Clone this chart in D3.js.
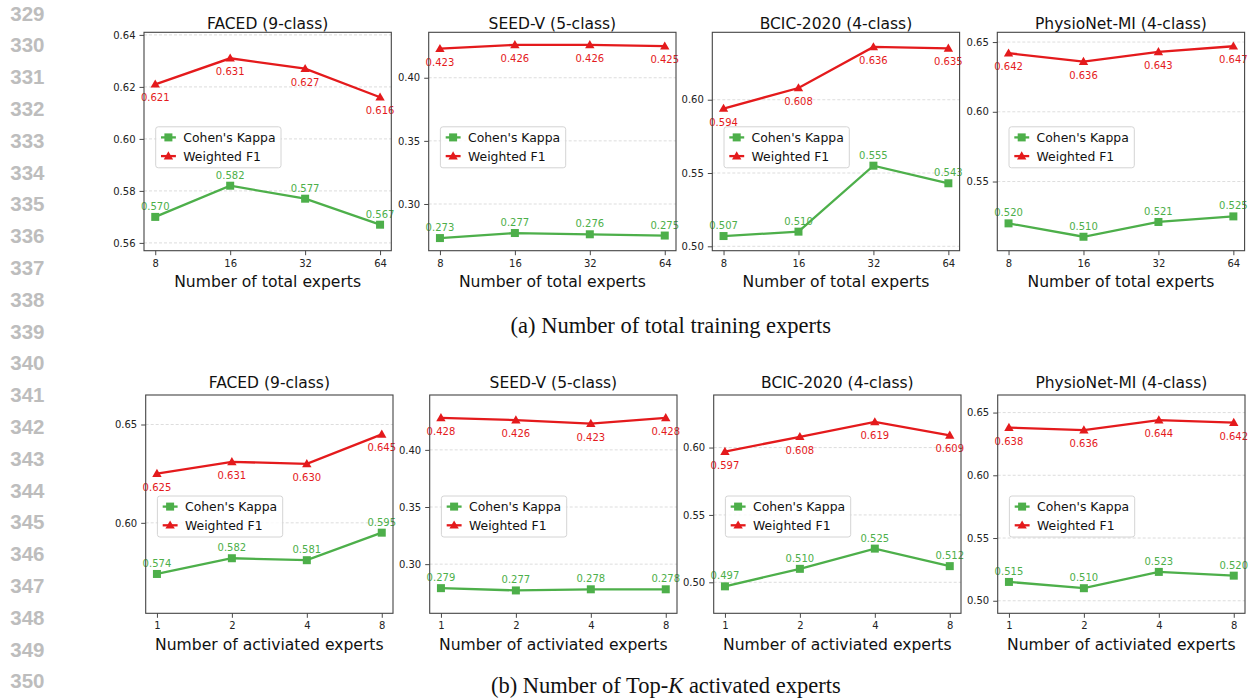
<!DOCTYPE html>
<html>
<head>
<meta charset="utf-8">
<script src="https://cdn.jsdelivr.net/npm/d3@7"></script>
<style>
  body { margin: 0; background: #fff; }
  svg { display: block; }
  text { font-family: "DejaVu Sans", sans-serif; }
</style>
</head>
<body>
<svg id="fig" width="1250" height="698"></svg>
<script>
// ---- data ----
const datasets = ["FACED (9-class)", "SEED-V (5-class)", "BCIC-2020 (4-class)", "PhysioNet-MI (4-class)"];
const totalExperts = ["8", "16", "32", "64"];
const activatedExperts = ["1", "2", "4", "8"];

// (a) number of total training experts
const totalF1 = [
  [0.621, 0.631, 0.627, 0.616],
  [0.423, 0.426, 0.426, 0.425],
  [0.594, 0.608, 0.636, 0.635],
  [0.642, 0.636, 0.643, 0.647]
];
const totalKappa = [
  [0.570, 0.582, 0.577, 0.567],
  [0.273, 0.277, 0.276, 0.275],
  [0.507, 0.510, 0.555, 0.543],
  [0.520, 0.5104, 0.521, 0.525]
];
const totalTicks = [
  [0.56, 0.58, 0.60, 0.62, 0.64],
  [0.30, 0.35, 0.40],
  [0.50, 0.55, 0.60],
  [0.55, 0.60, 0.65]
];

// (b) number of top-K activated experts
const activF1 = [
  [0.625, 0.631, 0.630, 0.645],
  [0.428, 0.426, 0.423, 0.428],
  [0.597, 0.608, 0.619, 0.609],
  [0.638, 0.636, 0.644, 0.642]
];
const activKappa = [
  [0.574, 0.582, 0.581, 0.595],
  [0.279, 0.277, 0.278, 0.278],
  [0.497, 0.510, 0.525, 0.512],
  [0.515, 0.510, 0.523, 0.520]
];
const activTicks = [
  [0.60, 0.65],
  [0.30, 0.35, 0.40],
  [0.50, 0.55, 0.60],
  [0.50, 0.55, 0.60, 0.65]
];

const lineNumbers = d3.range(329, 351);

const RED = "#e41a1c";
const GREEN = "#4daf4a";

const svg = d3.select("#fig");
svg.append("rect").attr("width", 1250).attr("height", 698).attr("fill", "#fff");

// line numbers in the margin
svg.append("g")
  .selectAll("text")
  .data(lineNumbers)
  .join("text")
    .attr("x", 44.5)
    .attr("y", (d, i) => 20.6 + i * 31.8)
    .attr("text-anchor", "end")
    .style("font-family", "'Liberation Sans', Arial, sans-serif")
    .style("font-weight", "bold")
    .style("font-size", "20.5px")
    .style("fill", "#bdbdbd")
    .text(d => d);

const rows = [
  {
    cats: totalExperts, f1: totalF1, kappa: totalKappa, ticks: totalTicks, pad: 0.01,
    xlabel: "Number of total experts",
    lefts: [144, 428.7, 712.3, 997.3], top: 32.3, bottom: 250.7,
    titleGap: 3.5, legendDy: 94.5
  },
  {
    cats: activatedExperts, f1: activF1, kappa: activKappa, ticks: activTicks, pad: 0.02,
    xlabel: "Number of activiated experts",
    lefts: [145.7, 429.7, 713.7, 997.7], top: 395, bottom: 613.3,
    titleGap: 7, legendDy: 101
  }
];

rows.forEach(row => {
  datasets.forEach((name, i) => {
    drawPanel(row, i, name);
  });
});

function drawPanel(row, i, name) {
  const width = 247.3;
  const left = row.lefts[i];
  const top = row.top;
  const innerH = row.bottom - row.top;
  const f1 = row.f1[i];
  const kappa = row.kappa[i];

  const g = svg.append("g").attr("transform", `translate(${left},${top})`);

  const x = d3.scalePoint()
    .domain(row.cats)
    .range([0, width])
    .padding(0.15);

  const all = f1.concat(kappa);
  const y = d3.scaleLinear()
    .domain([d3.min(all) - row.pad, d3.max(all) + row.pad])
    .range([innerH, 0]);

  // grid
  g.append("g")
    .selectAll("line")
    .data(row.ticks[i])
    .join("line")
      .attr("x1", 0)
      .attr("x2", width)
      .attr("y1", d => y(d))
      .attr("y2", d => y(d))
      .attr("stroke", "#d4d4d4")
      .attr("stroke-width", 0.8)
      .attr("stroke-dasharray", "3,2");

  // axes
  const yAxis = g.append("g")
    .call(d3.axisLeft(y).tickValues(row.ticks[i]).tickFormat(d3.format(".2f")).tickSize(4.5).tickPadding(4));
  const xAxis = g.append("g")
    .attr("transform", `translate(0,${innerH})`)
    .call(d3.axisBottom(x).tickSize(4.5).tickPadding(4.5));
  [yAxis, xAxis].forEach(ax => {
    ax.select(".domain").remove();
    ax.selectAll(".tick line").attr("stroke", "#333").attr("stroke-width", 0.9);
    ax.selectAll(".tick text")
      .style("font-family", "'DejaVu Sans', sans-serif")
      .style("font-size", "10px")
      .style("fill", "#222");
  });

  // series lines
  const line = d3.line()
    .x((d, j) => x(row.cats[j]))
    .y(d => y(d));

  g.append("path")
    .attr("d", line(kappa))
    .attr("fill", "none")
    .attr("stroke", GREEN)
    .attr("stroke-width", 2.3);

  g.append("g")
    .selectAll("rect")
    .data(kappa)
    .join("rect")
      .attr("x", (d, j) => x(row.cats[j]) - 4)
      .attr("y", d => y(d) - 4)
      .attr("width", 8)
      .attr("height", 8)
      .attr("fill", GREEN);

  g.append("path")
    .attr("d", line(f1))
    .attr("fill", "none")
    .attr("stroke", RED)
    .attr("stroke-width", 2.3);

  const tri = d3.symbol().type(d3.symbolTriangle).size(38);
  g.append("g")
    .selectAll("path")
    .data(f1)
    .join("path")
      .attr("transform", (d, j) => `translate(${x(row.cats[j])},${y(d) + 0.6})`)
      .attr("d", tri)
      .attr("fill", RED);

  // value labels
  g.append("g")
    .selectAll("text")
    .data(kappa)
    .join("text")
      .attr("x", (d, j) => x(row.cats[j]))
      .attr("y", d => y(d) - 7)
      .attr("text-anchor", "middle")
      .style("font-size", "10px")
      .style("fill", GREEN)
      .text(d => d3.format(".3f")(d));

  g.append("g")
    .selectAll("text")
    .data(f1)
    .join("text")
      .attr("x", (d, j) => x(row.cats[j]))
      .attr("y", d => y(d) + 17)
      .attr("text-anchor", "middle")
      .style("font-size", "10px")
      .style("fill", RED)
      .text(d => d3.format(".3f")(d));

  // frame
  g.append("rect")
    .attr("width", width)
    .attr("height", innerH)
    .attr("fill", "none")
    .attr("stroke", "#444")
    .attr("stroke-width", 1.1);

  // title & x label
  g.append("text")
    .attr("x", width / 2)
    .attr("y", -row.titleGap)
    .attr("text-anchor", "middle")
    .style("font-size", "15.5px")
    .style("fill", "#111")
    .text(name);

  g.append("text")
    .attr("x", width / 2)
    .attr("y", innerH + 36.5)
    .attr("text-anchor", "middle")
    .style("font-size", "15.6px")
    .style("fill", "#111")
    .text(row.xlabel);

  // legend
  const legend = g.append("g")
    .attr("transform", `translate(11.7,${row.legendDy})`);

  legend.append("rect")
    .attr("width", 125.3)
    .attr("height", 41)
    .attr("rx", 2.5)
    .attr("fill", "#fff")
    .attr("fill-opacity", 0.8)
    .attr("stroke", "#cfcfcf")
    .attr("stroke-width", 0.9);

  const entries = [
    { label: "Cohen's Kappa", color: GREEN, marker: "square" },
    { label: "Weighted F1", color: RED, marker: "triangle" }
  ];
  entries.forEach((e, k) => {
    const row_ = legend.append("g")
      .attr("transform", `translate(0,${10.6 + k * 18.7})`);
    row_.append("line")
      .attr("x1", 5.3)
      .attr("x2", 20.2)
      .attr("stroke", e.color)
      .attr("stroke-width", 2.3);
    if (e.marker === "square") {
      row_.append("rect")
        .attr("x", 12.7 - 4)
        .attr("y", -4)
        .attr("width", 8)
        .attr("height", 8)
        .attr("fill", e.color);
    } else {
      row_.append("path")
        .attr("transform", "translate(12.7,0.6)")
        .attr("d", tri)
        .attr("fill", e.color);
    }
    row_.append("text")
      .attr("x", 27.6)
      .attr("y", 4.4)
      .style("font-size", "12.4px")
      .style("fill", "#111")
      .text(e.label);
  });
}

// sub-figure captions
svg.append("text")
  .attr("x", 670.8)
  .attr("y", 332.5)
  .attr("text-anchor", "middle")
  .style("font-family", "'Liberation Serif', 'Times New Roman', serif")
  .style("font-size", "22.5px")
  .style("fill", "#111")
  .text("(a) Number of total training experts");

const capB = svg.append("text")
  .attr("x", 665.8)
  .attr("y", 693)
  .attr("text-anchor", "middle")
  .style("font-family", "'Liberation Serif', 'Times New Roman', serif")
  .style("font-size", "22.5px")
  .style("fill", "#111");
capB.append("tspan").text("(b) Number of Top-");
capB.append("tspan").style("font-style", "italic").text("K");
capB.append("tspan").text("\u00a0activated experts");
</script>
</body>
</html>
